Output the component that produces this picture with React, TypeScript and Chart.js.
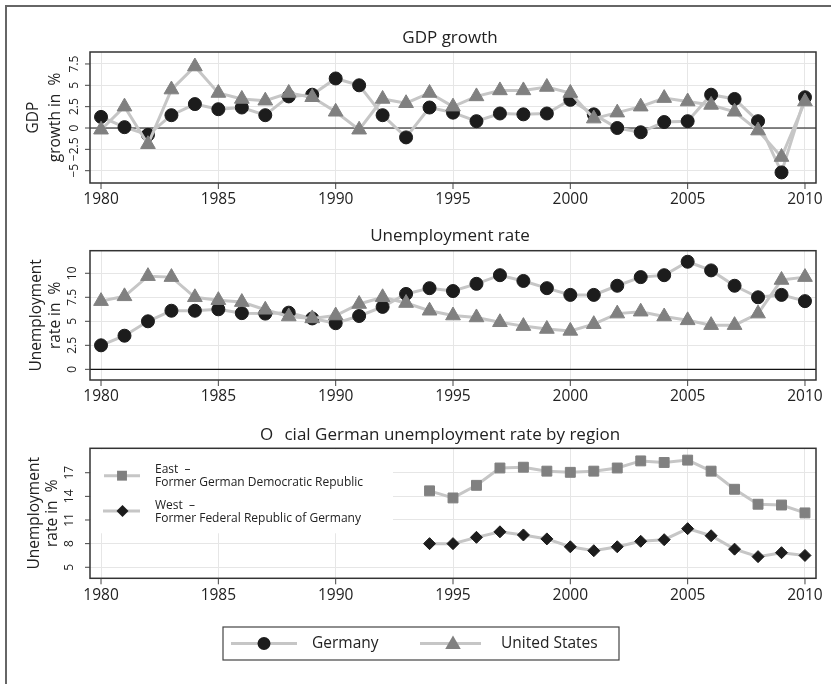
import React, { useEffect, useRef } from 'react';
import { Chart, registerables } from 'chart.js';

Chart.register(...registerables);

const YEARS = [1980, 1981, 1982, 1983, 1984, 1985, 1986, 1987, 1988, 1989, 1990, 1991, 1992, 1993, 1994, 1995, 1996, 1997, 1998, 1999, 2000, 2001, 2002, 2003, 2004, 2005, 2006, 2007, 2008, 2009, 2010];
const GDP_GERMANY = [1.3, 0.1, -0.8, 1.5, 2.8, 2.2, 2.4, 1.5, 3.7, 3.9, 5.8, 5.0, 1.5, -1.1, 2.4, 1.8, 0.8, 1.7, 1.6, 1.7, 3.3, 1.6, 0.0, -0.5, 0.7, 0.8, 3.9, 3.4, 0.8, -5.2, 3.6];
const GDP_US = [-0.2, 2.5, -1.9, 4.5, 7.2, 4.1, 3.4, 3.2, 4.1, 3.6, 1.9, -0.2, 3.4, 2.9, 4.1, 2.5, 3.7, 4.4, 4.4, 4.8, 4.1, 1.1, 1.8, 2.5, 3.5, 3.1, 2.7, 1.9, -0.3, -3.4, 3.1];
const UNEMP_GERMANY = [2.5, 3.5, 5.0, 6.1, 6.1, 6.25, 5.85, 5.8, 5.9, 5.3, 4.8, 5.55, 6.5, 7.85, 8.45, 8.15, 8.9, 9.8, 9.2, 8.45, 7.75, 7.75, 8.7, 9.6, 9.8, 11.2, 10.3, 8.7, 7.5, 7.75, 7.1];
const UNEMP_US = [7.1, 7.6, 9.7, 9.6, 7.5, 7.2, 7.0, 6.2, 5.5, 5.3, 5.6, 6.8, 7.5, 6.9, 6.1, 5.6, 5.4, 4.9, 4.5, 4.2, 4.0, 4.7, 5.8, 6.0, 5.5, 5.1, 4.6, 4.6, 5.8, 9.3, 9.6];
const REGION_YEARS = [1994, 1995, 1996, 1997, 1998, 1999, 2000, 2001, 2002, 2003, 2004, 2005, 2006, 2007, 2008, 2009, 2010];
const EAST = [14.7, 13.8, 15.4, 17.6, 17.7, 17.2, 17.05, 17.2, 17.6, 18.5, 18.3, 18.6, 17.2, 14.9, 13.0, 12.9, 11.9];
const WEST = [8.0, 8.0, 8.8, 9.5, 9.1, 8.6, 7.6, 7.1, 7.6, 8.3, 8.5, 9.9, 9.0, 7.3, 6.35, 6.85, 6.5];

const X_TICKS = [1980, 1985, 1990, 1995, 2000, 2005, 2010];
const GDP_TICKS = [-5, -2.5, 0, 2.5, 5, 7.5];
const GDP_TICK_LABELS = ['\u22125', '\u22122.5', '0', '2.5', '5', '7.5'];
const UNEMP_TICKS = [0, 2.5, 5, 7.5, 10];
const UNEMP_TICK_LABELS = ['0', '2.5', '5', '7.5', '10'];
const REGION_TICKS = [5, 8, 11, 14, 17];
const REGION_TICK_LABELS = ['5', '8', '11', '14', '17'];

const TITLES = ['GDP growth', 'Unemployment rate', 'O\u2002\u2009cial German unemployment rate by region'];
const SERIES_NAMES = ['Germany', 'United States'];
const REGION_NAMES = [['East  \u2013', 'Former German Democratic Republic'], ['West  \u2013', 'Former Federal Republic of Germany']];

const FONT = '"Open Sans", "Noto Sans", "DejaVu Sans", sans-serif';
const LINE = '#c6c6c6';
const DARK = '#1c1c1c';
const GRAY = '#808080';
const X_MIN = 1979.53;
const X_MAX = 2010.47;

function toXY(xs: number[], ys: number[]) {
  return xs.map((x, i) => ({ x, y: ys[i] }));
}

function drawMarker(ctx: CanvasRenderingContext2D, style: string, x: number, y: number, r: number, color: string) {
  ctx.save();
  ctx.fillStyle = color;
  ctx.beginPath();
  if (style === 'circle') {
    ctx.arc(x, y, r, 0, Math.PI * 2);
  } else if (style === 'triangle') {
    ctx.moveTo(x, y - r);
    ctx.lineTo(x + r * 0.866, y + r * 0.5);
    ctx.lineTo(x - r * 0.866, y + r * 0.5);
    ctx.closePath();
  } else if (style === 'rect') {
    const s = r * Math.SQRT1_2;
    ctx.rect(x - s, y - s, 2 * s, 2 * s);
  } else if (style === 'rectRot') {
    ctx.moveTo(x - r, y);
    ctx.lineTo(x, y - r);
    ctx.lineTo(x + r, y);
    ctx.lineTo(x, y + r);
    ctx.closePath();
  }
  ctx.fill();
  ctx.restore();
}

function hline(ctx: CanvasRenderingContext2D, x1: number, x2: number, y: number, color: string, w: number) {
  ctx.save();
  ctx.strokeStyle = color;
  ctx.lineWidth = w;
  ctx.beginPath();
  ctx.moveTo(x1, y);
  ctx.lineTo(x2, y);
  ctx.stroke();
  ctx.restore();
}

const decorPlugin = {
  id: 'decor',
  beforeDatasetsDraw(chart: any, _args: any, o: any) {
    const { ctx, chartArea: a } = chart;
    if (o.inset) {
      ctx.save();
      ctx.fillStyle = '#ffffff';
      ctx.fillRect(a.left + 1, a.top + 1, o.inset.w, o.inset.h);
      ctx.restore();
    }
    if (o.zero) {
      const y = chart.scales.y.getPixelForValue(0);
      hline(ctx, a.left, a.right, y, '#111111', 1.2);
    }
  },
  afterDraw(chart: any, _args: any, o: any) {
    const { ctx, chartArea: a } = chart;
    const xs = chart.scales.x;
    const ys = chart.scales.y;
    ctx.save();
    ctx.strokeStyle = '#333333';
    ctx.lineWidth = 1.5;
    ctx.strokeRect(a.left, a.top, a.right - a.left, a.bottom - a.top);

    ctx.fillStyle = '#222222';
    ctx.textAlign = 'center';
    ctx.textBaseline = 'middle';
    ctx.strokeStyle = '#444444';
    ctx.lineWidth = 1;
    ctx.font = `15.5px ${FONT}`;
    X_TICKS.forEach((v) => {
      const px = xs.getPixelForValue(v);
      ctx.beginPath();
      ctx.moveTo(px, a.bottom);
      ctx.lineTo(px, a.bottom + 6);
      ctx.stroke();
      ctx.fillText(String(v), px, a.bottom + 17);
    });

    o.yTicks.forEach((v: number, i: number) => {
      const py = ys.getPixelForValue(v);
      ctx.beginPath();
      ctx.moveTo(a.left - 5, py);
      ctx.lineTo(a.left, py);
      ctx.stroke();
      ctx.save();
      ctx.translate(o.yLabelX, py);
      ctx.rotate(-Math.PI / 2);
      ctx.font = `12px ${FONT}`;
      ctx.fillText(o.yLabels[i], 0, 0);
      ctx.restore();
    });

    const cy = (a.top + a.bottom) / 2;
    o.yTitle.forEach((t: string, i: number) => {
      ctx.save();
      ctx.translate(o.yTitleX[i], cy);
      ctx.rotate(-Math.PI / 2);
      ctx.font = `15.5px ${FONT}`;
      ctx.fillText(t, 0, 0);
      ctx.restore();
    });

    ctx.font = `17px ${FONT}`;
    ctx.fillText(o.title, o.titleX, o.titleY);

    if (o.inset) {
      const L = o.inset;
      ctx.textAlign = 'left';
      ctx.font = `12px ${FONT}`;
      hline(ctx, 104, 140, L.y1, LINE, 3);
      drawMarker(ctx, 'rect', 122, L.y1, 7, GRAY);
      ctx.fillStyle = '#222222';
      ctx.fillText(REGION_NAMES[0][0], 155, L.y1 - 6);
      ctx.fillText(REGION_NAMES[0][1], 155, L.y1 + 7);
      hline(ctx, 103, 140, L.y2, LINE, 3);
      drawMarker(ctx, 'rectRot', 122.5, L.y2, 6, DARK);
      ctx.fillStyle = '#222222';
      ctx.fillText(REGION_NAMES[1][0], 155, L.y2 - 5);
      ctx.fillText(REGION_NAMES[1][1], 155, L.y2 + 7.5);
    }

    if (o.bottomLegend) {
      const B = o.bottomLegend;
      ctx.strokeStyle = '#444444';
      ctx.lineWidth = 1.2;
      ctx.strokeRect(223, B.top, 396, 33);
      const ly = B.top + 16.5;
      hline(ctx, 231, 297, ly, LINE, 3);
      drawMarker(ctx, 'circle', 264, ly, 6.5, DARK);
      hline(ctx, 420, 481, ly, LINE, 3);
      drawMarker(ctx, 'triangle', 453, ly + 1, 9, GRAY);
      ctx.fillStyle = '#222222';
      ctx.textAlign = 'left';
      ctx.font = `15.5px ${FONT}`;
      ctx.fillText(SERIES_NAMES[0], 312, ly);
      ctx.fillText(SERIES_NAMES[1], 501, ly);
    }
    ctx.restore();
  },
};

type Spec = {
  top: number;
  height: number;
  areaTop: number;
  areaBottom: number;
  yMin: number;
  yMax: number;
  yTicks: number[];
  yLabels: string[];
  yLabelX: number;
  yTitle: string[];
  yTitleX: number[];
  title: string;
  titleX: number;
  titleY: number;
  zero: boolean;
  datasets: any[];
  inset?: any;
  bottomLegend?: any;
};

function lineDataset(data: { x: number; y: number }[], style: string, r: number, color: string, order: number) {
  return {
    data,
    borderColor: LINE,
    borderWidth: 3,
    tension: 0,
    fill: false,
    pointStyle: style,
    pointRadius: r,
    pointBackgroundColor: color,
    pointBorderColor: color,
    pointBorderWidth: 1,
    order,
    clip: false,
  };
}

function buildConfig(s: Spec): any {
  return {
    type: 'line',
    data: { datasets: s.datasets },
    plugins: [decorPlugin],
    options: {
      animation: false,
      responsive: false,
      maintainAspectRatio: false,
      events: [],
      layout: {
        padding: {
          left: 90,
          right: 831 - 816,
          top: s.areaTop - s.top,
          bottom: s.top + s.height - s.areaBottom,
        },
      },
      plugins: {
        legend: { display: false },
        tooltip: { enabled: false },
        title: { display: false },
        decor: {
          yTicks: s.yTicks,
          yLabels: s.yLabels,
          yLabelX: s.yLabelX,
          yTitle: s.yTitle,
          yTitleX: s.yTitleX,
          title: s.title,
          titleX: s.titleX,
          titleY: s.titleY,
          zero: s.zero,
          inset: s.inset,
          bottomLegend: s.bottomLegend,
        },
      },
      scales: {
        x: {
          type: 'linear',
          min: X_MIN,
          max: X_MAX,
          ticks: { display: false },
          grid: { color: '#e6e6e6', lineWidth: 1, drawTicks: false },
          border: { display: false },
          afterBuildTicks: (sc: any) => {
            sc.ticks = X_TICKS.map((v) => ({ value: v }));
          },
          afterFit: (sc: any) => {
            sc.height = 0;
          },
        },
        y: {
          type: 'linear',
          min: s.yMin,
          max: s.yMax,
          ticks: { display: false },
          grid: { color: '#e6e6e6', lineWidth: 1, drawTicks: false },
          border: { display: false },
          afterBuildTicks: (sc: any) => {
            sc.ticks = s.yTicks.map((v) => ({ value: v }));
          },
          afterFit: (sc: any) => {
            sc.width = 0;
          },
        },
      },
    },
  };
}

const SPECS: Spec[] = [
  {
    top: 0,
    height: 212,
    areaTop: 52,
    areaBottom: 183,
    yMin: -6.44,
    yMax: 8.9,
    yTicks: GDP_TICKS,
    yLabels: GDP_TICK_LABELS,
    yLabelX: 75,
    yTitle: ['GDP', 'growth in  %'],
    yTitleX: [34, 56],
    title: TITLES[0],
    titleX: 450,
    titleY: 38,
    zero: true,
    datasets: [
      lineDataset(toXY(YEARS, GDP_GERMANY), 'circle', 6.5, DARK, 1),
      lineDataset(toXY(YEARS, GDP_US), 'triangle', 8.5, GRAY, 0),
    ],
  },
  {
    top: 212,
    height: 203,
    areaTop: 250.7,
    areaBottom: 380,
    yMin: -1.11,
    yMax: 12.35,
    yTicks: UNEMP_TICKS,
    yLabels: UNEMP_TICK_LABELS,
    yLabelX: 73,
    yTitle: ['Unemployment', 'rate in  %'],
    yTitleX: [37, 56],
    title: TITLES[1],
    titleX: 450,
    titleY: 24,
    zero: true,
    datasets: [
      lineDataset(toXY(YEARS, UNEMP_GERMANY), 'circle', 6.5, DARK, 1),
      lineDataset(toXY(YEARS, UNEMP_US), 'triangle', 8.5, GRAY, 0),
    ],
  },
  {
    top: 415,
    height: 269,
    areaTop: 448.3,
    areaBottom: 578.3,
    yMin: 3.6,
    yMax: 20.1,
    yTicks: REGION_TICKS,
    yLabels: REGION_TICK_LABELS,
    yLabelX: 70,
    yTitle: ['Unemployment', 'rate in  %'],
    yTitleX: [35, 53],
    title: TITLES[2],
    titleX: 440,
    titleY: 20,
    zero: false,
    inset: { w: 302, h: 84, y1: 60.7, y2: 96 },
    bottomLegend: { top: 212 },
    datasets: [
      lineDataset(toXY(REGION_YEARS, EAST), 'rect', 7, GRAY, 0),
      lineDataset(toXY(REGION_YEARS, WEST), 'rectRot', 6, DARK, 1),
    ],
  },
];

function Panel({ spec }: { spec: Spec }) {
  const ref = useRef<HTMLCanvasElement>(null);
  useEffect(() => {
    const chart = new Chart(ref.current as HTMLCanvasElement, buildConfig(spec));
    return () => chart.destroy();
  }, [spec]);
  return (
    <canvas
      ref={ref}
      width={831}
      height={spec.height}
      style={{ position: 'absolute', left: 0, top: spec.top, width: 831, height: spec.height, display: 'block' }}
    />
  );
}

export default function App() {
  return (
    <div style={{ position: 'absolute', left: 0, top: 0, width: 831, height: 684, background: '#ffffff', overflow: 'hidden' }}>
      {SPECS.map((s, i) => (
        <Panel key={i} spec={s} />
      ))}
      <div
        style={{
          position: 'absolute',
          left: 5,
          top: 5,
          width: 900,
          height: 900,
          borderLeft: '2px solid #666666',
          borderTop: '2px solid #666666',
          pointerEvents: 'none',
        }}
      />
    </div>
  );
}
